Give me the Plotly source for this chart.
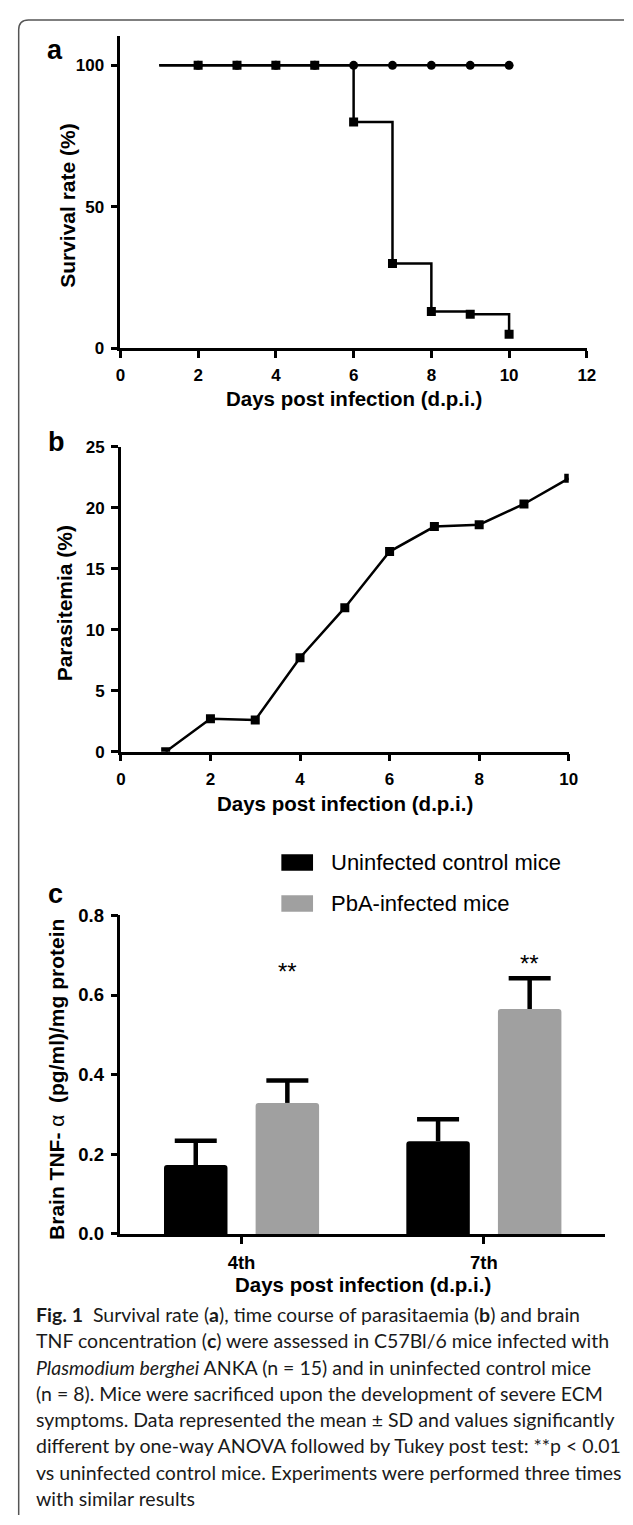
import plotly.graph_objects as go

# ---------------- data ----------------
days_a = [1, 2, 3, 4, 5, 6, 7, 8, 9, 10]
survival_control = [100, 100, 100, 100, 100, 100, 100, 100, 100, 100]
survival_infected = [100, 100, 100, 100, 100, 80, 30, 13, 12, 5]

days_b = [1, 2, 3, 4, 5, 6, 7, 8, 9, 10]
parasitemia = [0, 2.7, 2.6, 7.7, 11.8, 16.4, 18.45, 18.6, 20.3, 22.4]

categories = ["4th", "7th"]
control_mean = [0.173, 0.233]
control_sd = [0.061, 0.055]
infected_mean = [0.329, 0.565]
infected_sd = [0.056, 0.077]
sig_labels = ["**", "**"]
sig_y = [0.66, 0.68]

ticks_a_x = [0, 2, 4, 6, 8, 10, 12]
ticks_a_y = [0, 50, 100]
ticks_b_x = [0, 2, 4, 6, 8, 10]
ticks_b_y = [0, 5, 10, 15, 20, 25]
ticks_c_y = [0.0, 0.2, 0.4, 0.6, 0.8]

caption_lines = [
    "<b>Fig. 1</b>  Survival rate (<b>a</b>), time course of parasitaemia (<b>b</b>) and brain",
    "TNF concentration (<b>c</b>) were assessed in C57Bl/6 mice infected with",
    "<i>Plasmodium berghei</i> ANKA (n = 15) and in uninfected control mice",
    "(n = 8). Mice were sacrificed upon the development of severe ECM",
    "symptoms. Data represented the mean ± SD and values significantly",
    "different by one-way ANOVA followed by Tukey post test: **p &lt; 0.01",
    "vs uninfected control mice. Experiments were performed three times",
    "with similar results",
]

# ---------------- layout helpers ----------------
W, H = 633, 1525
FONT = "Arial, Liberation Sans, sans-serif"
CAP_FONT = "Lato, Open Sans, sans-serif"


def px(x):
    return x / W


def py(y):
    return 1 - y / H


BARGAP = 0.244
BARGROUPGAP = 0.307
slot = (1 - BARGAP) / 2
LW = 2.5
MS = 9

fig = go.Figure()

# Panel a
fig.add_trace(go.Scatter(x=days_a, y=survival_control, mode="lines",
                         line=dict(color="black", width=LW), xaxis="x", yaxis="y",
                         showlegend=False))
fig.add_trace(go.Scatter(x=days_a[1:], y=survival_control[1:], mode="markers",
                         marker=dict(symbol="circle", size=MS, color="black"),
                         xaxis="x", yaxis="y", showlegend=False))
fig.add_trace(go.Scatter(x=days_a, y=survival_infected, mode="lines",
                         line=dict(color="black", width=LW, shape="hv"),
                         xaxis="x", yaxis="y", showlegend=False))
fig.add_trace(go.Scatter(x=days_a[1:], y=survival_infected[1:], mode="markers",
                         marker=dict(symbol="square", size=MS, color="black"),
                         xaxis="x", yaxis="y", showlegend=False))

# Panel b
fig.add_trace(go.Scatter(x=days_b, y=parasitemia, mode="lines+markers",
                         line=dict(color="black", width=LW),
                         marker=dict(symbol="square", size=MS, color="black"),
                         xaxis="x2", yaxis="y2", showlegend=False))

# Panel c
xcat = list(range(len(categories)))
fig.add_trace(go.Bar(x=xcat, y=control_mean, name="Uninfected control mice",
                     marker=dict(color="black", line=dict(width=0), cornerradius=3),
                     xaxis="x3", yaxis="y3", showlegend=False))
fig.add_trace(go.Bar(x=xcat, y=infected_mean, name="PbA-infected mice",
                     marker=dict(color="#a0a0a0", line=dict(width=0), cornerradius=3),
                     xaxis="x3", yaxis="y3", showlegend=False))

# upward-only SD bars (cap at the top only)
for means, sds, sign in [(control_mean, control_sd, -1), (infected_mean, infected_sd, 1)]:
    fig.add_trace(go.Scatter(
        x=[c + sign * slot / 2 for c in xcat],
        y=[m + s for m, s in zip(means, sds)],
        mode="markers",
        marker=dict(symbol="line-ew", size=30, color="black", line=dict(width=4.5, color="black")),
        error_y=dict(type="data", symmetric=False, array=[0] * len(sds), arrayminus=sds,
                     thickness=4.5, width=0, color="black"),
        xaxis="x3", yaxis="y3", showlegend=False, hoverinfo="skip"))

axis_common = dict(showline=True, linecolor="black", linewidth=2.5, ticks="outside",
                   ticklen=7, tickwidth=2.5, tickcolor="black", showgrid=False,
                   zeroline=False, ticklabelstandoff=3)

tf_ab = dict(family=FONT, size=17, color="black", weight="bold")
tf_c = dict(family=FONT, size=18.5, color="black", weight="bold")

fig.update_layout(
    width=W, height=H, margin=dict(l=0, r=0, t=0, b=0),
    paper_bgcolor="white", plot_bgcolor="rgba(0,0,0,0)",
    barmode="group", bargap=BARGAP, bargroupgap=BARGROUPGAP,
    xaxis=dict(domain=[px(118), px(595)], range=[0, 12], tickvals=ticks_a_x,
               anchor="y", tickfont=tf_ab, **axis_common),
    yaxis=dict(domain=[py(342), py(25)], range=[0, 110.5], tickvals=ticks_a_y,
               anchor="x", tickfont=tf_ab, **axis_common),
    xaxis2=dict(domain=[px(118.5), px(576.5)], range=[0, 10], tickvals=ticks_b_x,
                anchor="y2", tickfont=tf_ab, **axis_common),
    yaxis2=dict(domain=[py(751), py(441.7)], range=[0, 25], tickvals=ticks_b_y,
                anchor="x2", tickfont=tf_ab, **axis_common),
    xaxis3=dict(domain=[px(118), px(613.6)], range=[-0.5, 1.5], tickvals=xcat,
                ticktext=categories, anchor="y3", tickfont=tf_c, **axis_common),
    yaxis3=dict(domain=[py(1240), py(917)], range=[0, 0.8], tickvals=ticks_c_y,
                tickformat=".1f", anchor="x3", tickfont=tf_c, **axis_common),
)

ann = []
# axis titles
xt = dict(family=FONT, size=20.5, color="black", weight="bold")
yt = dict(family=FONT, size=21, color="black", weight="bold")
for (cx, cy) in [(357, 392.7), (348, 803.3), (366, 1291.7)]:
    ann.append(dict(text="Days post infection (d.p.i.)", x=px(cx), y=py(cy), xref="paper", yref="paper",
                    xanchor="center", yanchor="middle", showarrow=False, font=xt))
for (txt, cx, cy) in [("Survival rate (%)", 64, 197), ("Parasitemia (%)", 61, 601),
                      ("Brain TNF- <span style='font-weight:normal'>α</span>  (pg/ml)/mg protein", 52, 1083)]:
    ann.append(dict(text=txt, x=px(cx), y=py(cy), xref="paper", yref="paper", textangle=-90,
                    xanchor="center", yanchor="middle", showarrow=False, font=yt))
# panel letters
for (t, cx, cy) in [("a", 51, 40), ("b", 53, 437), ("c", 52, 895)]:
    ann.append(dict(text=t, x=px(cx), y=py(cy), xref="paper", yref="paper", xanchor="center",
                    yanchor="middle", showarrow=False,
                    font=dict(family=FONT, size=27, color="black", weight="bold")))
# significance stars above infected bars
for i, lab in enumerate(sig_labels):
    ann.append(dict(text=lab, x=xcat[i] + slot / 2, y=sig_y[i], xref="x3", yref="y3",
                    xanchor="center", yanchor="middle", showarrow=False,
                    font=dict(family=FONT, size=24, color="black")))
# legend (manual)
shapes = []
for (col, y0, y1, txt) in [("black", 855, 871.7, "Uninfected control mice"),
                           ("#a0a0a0", 896.7, 913.3, "PbA-infected mice")]:
    shapes.append(dict(type="rect", xref="paper", yref="paper", x0=px(282.6), x1=px(315),
                       y0=py(y1), y1=py(y0), fillcolor=col, line=dict(width=0)))
    ann.append(dict(text=txt, x=px(331), y=py((y0 + y1) / 2), xref="paper", yref="paper",
                    xanchor="left", yanchor="middle", showarrow=False,
                    font=dict(family=FONT, size=22, color="black")))
# caption
cap_y = [1321.7, 1348.3, 1375, 1401.7, 1428.3, 1455, 1481.7, 1508.3]
for line, cy in zip(caption_lines, cap_y):
    ann.append(dict(text=line, x=px(30), y=py(cy), xref="paper", yref="paper", xanchor="left",
                    yanchor="middle", showarrow=False,
                    font=dict(family=CAP_FONT, size=19.5, color="#1a1a1a")))
# frame
shapes.append(dict(type="path", xref="paper", yref="paper",
                   path=f"M {px(14)},{py(1525)} L {px(14)},{py(19)} Q {px(14)},{py(9)} {px(24)},{py(9)} L {px(633)},{py(9)}",
                   line=dict(color="#555555", width=1.5)))

fig.update_layout(annotations=ann, shapes=shapes)

fig.write_html("out.html", config={"displayModeBar": False},
               post_script="document.body.style.margin='0';document.body.style.overflow='hidden';")
